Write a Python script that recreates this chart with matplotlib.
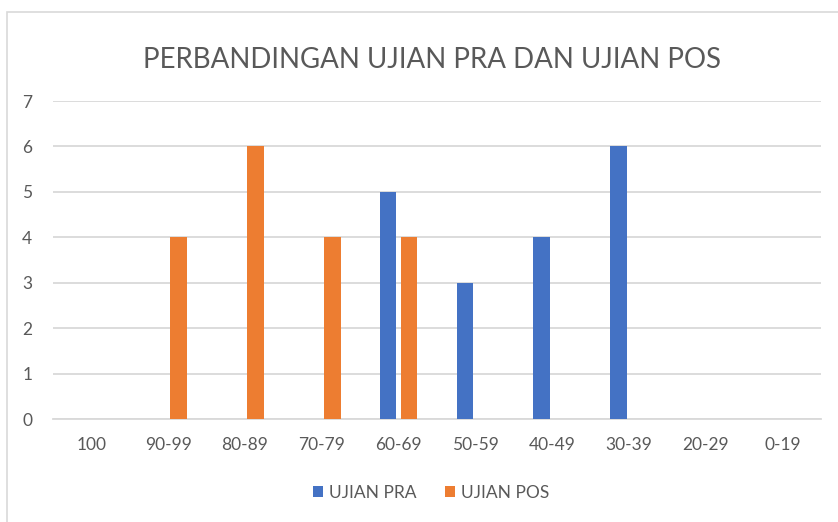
import numpy as np
import matplotlib.pyplot as plt
from matplotlib.patches import Rectangle

categories = ["100", "90-99", "80-89", "70-79", "60-69", "50-59", "40-49", "30-39", "20-29", "0-19"]
ujianPra = [0, 0, 0, 0, 5, 3, 4, 6, 0, 0]
ujianPos = [0, 4, 6, 4, 4, 0, 0, 0, 0, 0]
yTicks = [0, 1, 2, 3, 4, 5, 6, 7]

textColor = "#595959"
gridColor = "#D9D9D9"
blue = "#4472C4"
orange = "#ED7D31"

plt.rcParams["font.family"] = ["Lato", "DejaVu Sans"]

fig = plt.figure(figsize=(8.38, 5.22), dpi=100)
fig.patch.set_facecolor("white")

# chart frame (cropped on the right and bottom in the reference)
fig.add_artist(Rectangle((7 / 838, -0.05), 1.0, (522 - 12) / 522 + 0.05,
                         transform=fig.transFigure, fill=False,
                         edgecolor="#D9D9D9", linewidth=1.2))

ax = fig.add_axes([53 / 838, (522 - 419.3) / 522, (821 - 53) / 838, (419.3 - 101) / 522])

x = np.arange(len(categories))
barWidth = 0.215
offset = 0.137
ax.bar(x - offset, ujianPra, width=barWidth, color=blue, label="UJIAN PRA", zorder=3)
ax.bar(x + offset, ujianPos, width=barWidth, color=orange, label="UJIAN POS", zorder=3)

ax.set_xlim(-0.5, len(categories) - 0.5)
ax.set_ylim(0, 7)
ax.set_yticks(yTicks)
ax.set_xticks(x)
ax.set_xticklabels(categories)
ax.yaxis.grid(True, color=gridColor, linewidth=1.3, zorder=0)
ax.set_axisbelow(True)
for side in ["top", "right", "left"]:
    ax.spines[side].set_visible(False)
ax.spines["bottom"].set_color(gridColor)
ax.spines["bottom"].set_linewidth(1.3)
ax.tick_params(axis="both", length=0, labelsize=12.5, colors=textColor)
ax.tick_params(axis="x", pad=13)
ax.tick_params(axis="y", pad=15)

fig.text(432 / 838, (522 - 60) / 522, "PERBANDINGAN UJIAN PRA DAN UJIAN POS",
         ha="center", va="center", fontsize=19.9, color=textColor)

leg = fig.legend(loc="center", bbox_to_anchor=(431 / 838, (522 - 493) / 522), ncol=2,
                 frameon=False, fontsize=12.5, handlelength=0.6, handleheight=0.6,
                 handletextpad=0.35, columnspacing=1.6)
for t in leg.get_texts():
    t.set_color(textColor)

fig.savefig("out.png", dpi=100)
